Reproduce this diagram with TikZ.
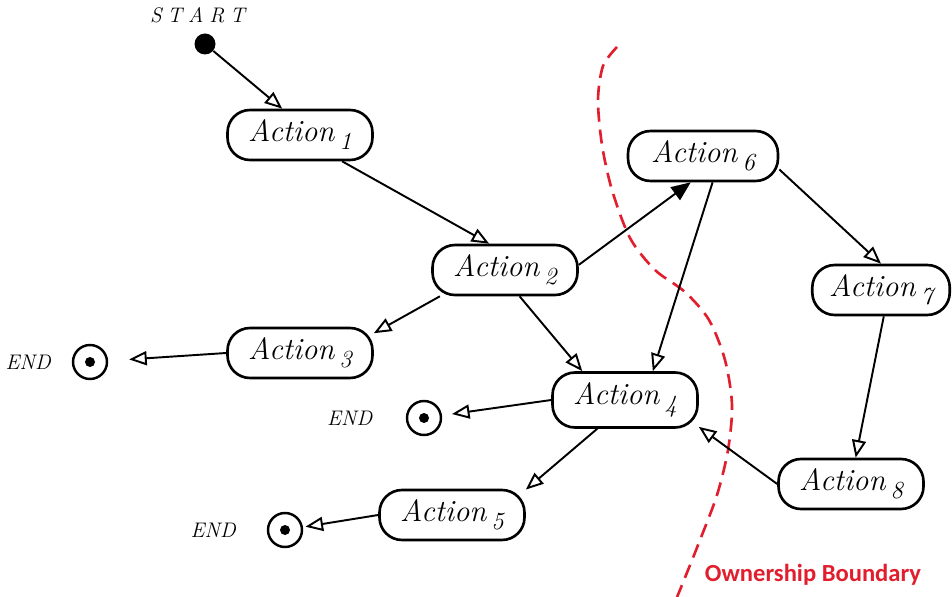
\documentclass[tikz,border=0pt]{standalone}
\usepackage{fontspec}
\usetikzlibrary{shapes,arrows.meta,positioning}
\newfontfamily\ownfont{Carlito}
\definecolor{ownred}{RGB}{225,30,45}
\newcommand{\actlabel}[1]{Action\,\raisebox{-.6ex}{\fontsize{14}{14}\selectfont #1}}

\tikzset{
  act/.style={draw, line width=1.5pt, rounded corners=.45cm, minimum width=2.9cm, minimum height=1cm,
    inner sep=2pt, font=\fontsize{17.5}{19}\selectfont\itshape},
  startdot/.style={circle, fill=black, inner sep=0pt, minimum size=.42cm},
  endmark/.style={circle, draw, line width=1.4pt, inner sep=0pt, minimum size=.68cm,
    path picture={\fill (path picture bounding box.center) circle (.1cm);}},
  endtxt/.style={font=\fontsize{12}{14}\selectfont\itshape},
  flow/.style={line width=1.1pt},
  boundary/.style={ownred, line width=1.5pt, dash pattern=on 8pt off 4.5pt}
}

\begin{document}
\begin{tikzpicture}[x=.02cm, y=-.02cm, >={Triangle[open,length=10pt,width=8pt]}]
  \useasboundingbox (0,0) rectangle (952,597);

  \draw [boundary] plot[smooth] coordinates {(617,47) (603,66) (598,100) (602,145) (612,190) (630,238) (655,270) (685,292) (709,320) (725,360) (732,405) (728,450) (717,495) (700,540) (682,585) (677,597)};
  \node [font=\ownfont\bfseries\fontsize{14}{16}\selectfont, text=ownred] (own) at (813,575) {Ownership Boundary};

  \node [startdot] (start) at (205,44) {};
  \node [endtxt, above=.08cm of start, xshift=-.15cm] (starttxt) {S\;T\;A\;R\;T};

  \node [act] (a1) at (300,135) {\actlabel{1}};
  \node [act] (a2) at (505,270) {\actlabel{2}};
  \node [act] (a3) at (300,353) {\actlabel{3}};
  \node [act, minimum height=1.1cm] (a4) at (625,400) {\actlabel{4}};
  \node [act] (a5) at (452,515) {\actlabel{5}};
  \node [act, minimum width=3cm] (a6) at (703,156) {\actlabel{6}};
  \node [act, minimum width=2.75cm] (a7) at (881,290) {\actlabel{7}};
  \node [act] (a8) at (851,484) {\actlabel{8}};

  \node [endmark] (e1) at (90,362) {};
  \node [endmark] (e2) at (424,418) {};
  \node [endmark] (e3) at (285,530) {};
  \node [endtxt, left=.3cm of e1] (e1txt) {END};
  \node [endtxt, left=.55cm of e2] (e2txt) {END};
  \node [endtxt, left=.5cm of e3] (e3txt) {END};

  \draw [flow, ->] (start) -- (a1.124);
  \draw [flow, ->] (a1.-32) -- (a2.121);
  \draw [flow, -{Triangle[length=11pt,width=9pt]}] (a2.4) -- (a6.-115);
  \draw [flow, ->] (a2.-158) -- (a3.15);
  \draw [flow, ->] (a2.-61) -- (a4.146);
  \draw [flow, ->] (a6.-70) -- (a4.46);
  \draw [flow, ->] (a6.-10) -- (a7.90);
  \draw [flow, ->] (a7.-84) -- (a8.80);
  \draw [flow, ->] (a8.180) -- (a4.-20);
  \draw [flow, ->, shorten >=.42cm] (a3.west) -- (e1);
  \draw [flow, ->, shorten >=.2cm] (a4.west) -- (e2);
  \draw [flow, ->] (a4.-134) -- (a5.19);
  \draw [flow, ->, shorten >=.05cm] (a5.west) -- (e3);
\end{tikzpicture}
\end{document}
